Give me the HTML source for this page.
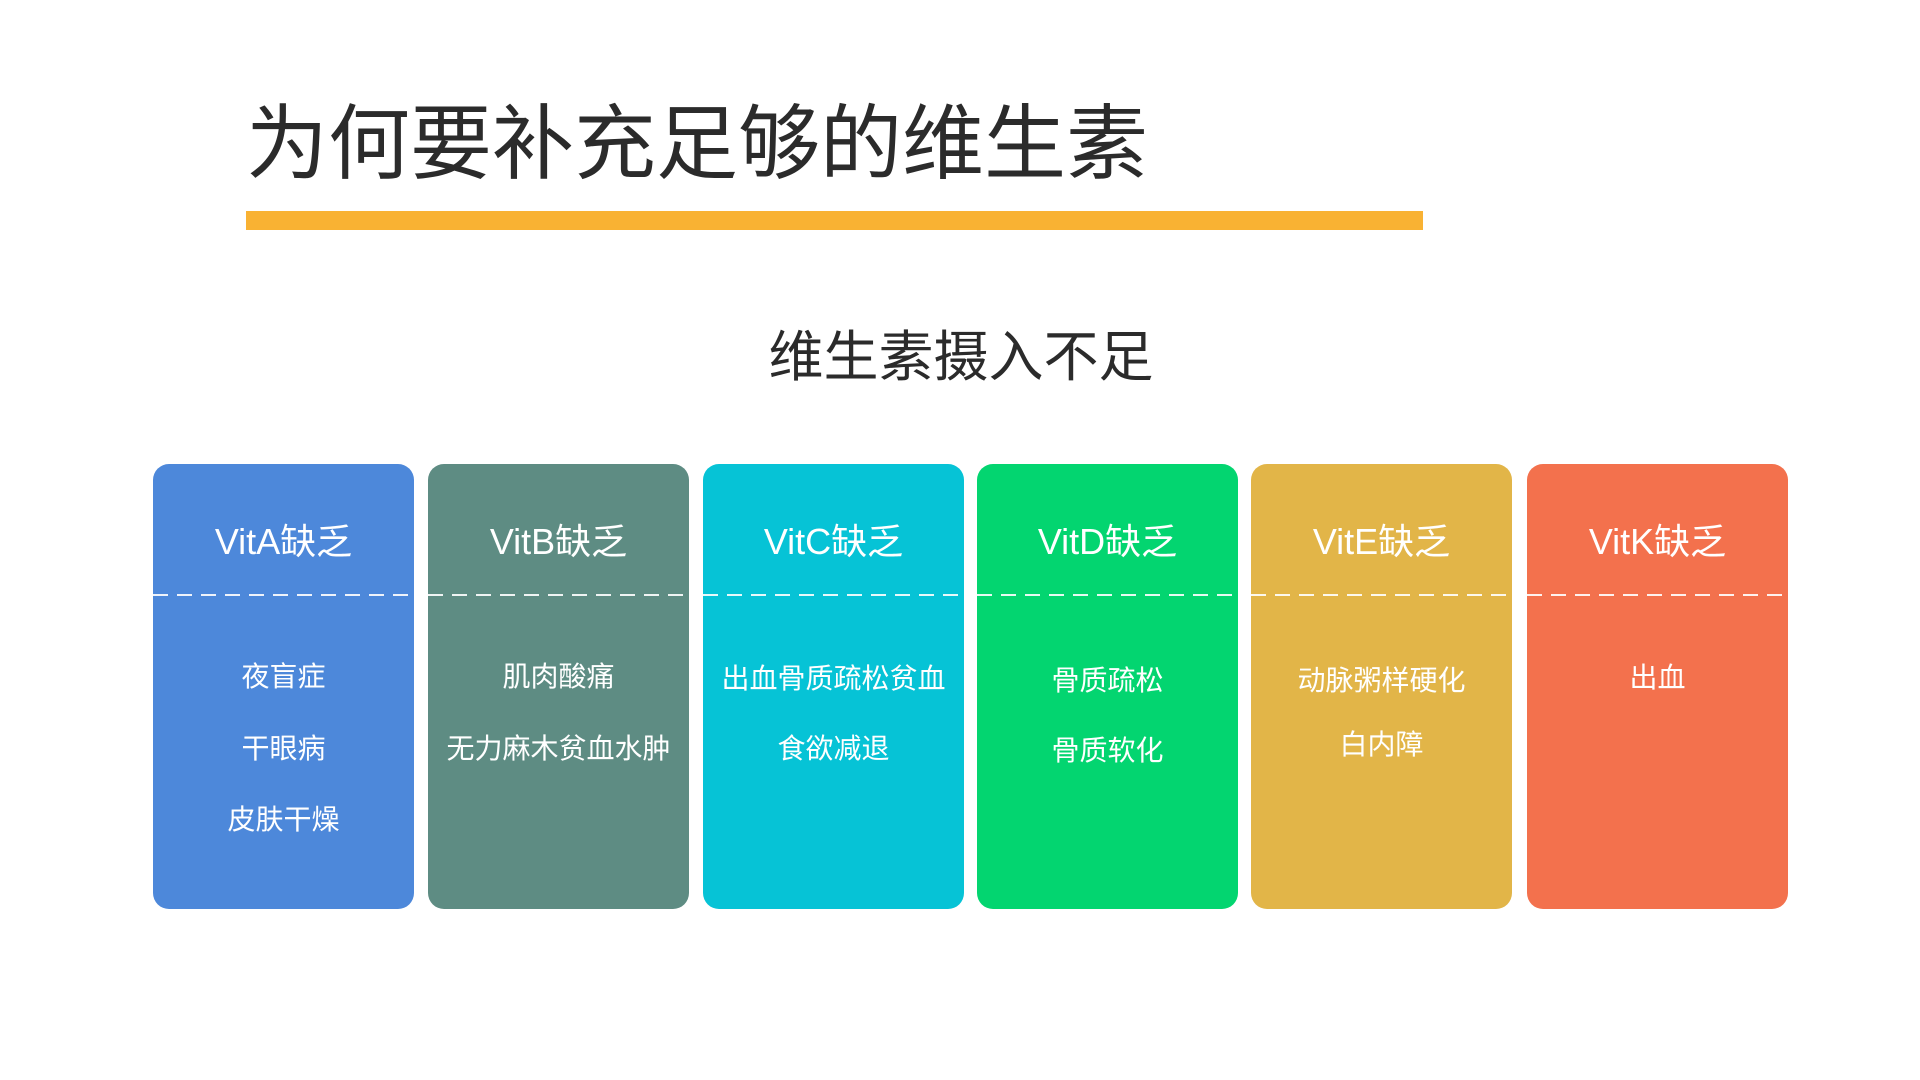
<!DOCTYPE html>
<html><head><meta charset="utf-8"><style>
body{margin:0;width:1920px;height:1080px;background:#fff;position:relative;overflow:hidden;font-family:"Liberation Sans","Noto Sans CJK SC",sans-serif;}
.t{position:absolute;left:246px;top:92px;font-size:82px;line-height:106px;color:#2b2b2b;white-space:nowrap;}
.bar{position:absolute;left:246px;top:211px;width:1177px;height:19px;background:#F9B233;}
.s{position:absolute;top:323px;font-size:55px;line-height:68px;color:#2b2b2b;text-align:center;white-space:nowrap;}
.c{position:absolute;top:464px;width:261px;height:445px;border-radius:16px;color:#fff;}
.h{position:absolute;top:0;left:0;width:100%;height:130px;line-height:156px;text-align:center;font-size:36px;}
.d{position:absolute;top:130px;left:0;width:100%;height:2px;background:repeating-linear-gradient(90deg,rgba(255,255,255,.9) 0 15px,transparent 15px 24px);}
.b{position:absolute;left:0;width:100%;text-align:center;font-size:28px;line-height:30px;white-space:nowrap;}
</style></head><body>
<div class="t">为何要补充足够的维生素</div>
<div class="bar"></div>
<div class="s" style="left:768px;width:386px;">维生素摄入不足</div>

<div class="c" style="left:153px;background:#4D88DA"><div class="h">VitA缺乏</div><div class="d"></div>
<div class="b" style="top:198px">夜盲症</div><div class="b" style="top:270px">干眼病</div><div class="b" style="top:341px">皮肤干燥</div></div>

<div class="c" style="left:428px;background:#5E8C83"><div class="h">VitB缺乏</div><div class="d"></div>
<div class="b" style="top:198px">肌肉酸痛</div><div class="b" style="top:270px">无力麻木贫血水肿</div></div>

<div class="c" style="left:703px;background:#06C3D6"><div class="h">VitC缺乏</div><div class="d"></div>
<div class="b" style="top:200px">出血骨质疏松贫血</div><div class="b" style="top:270px">食欲减退</div></div>

<div class="c" style="left:977px;background:#03D570"><div class="h">VitD缺乏</div><div class="d"></div>
<div class="b" style="top:202px">骨质疏松</div><div class="b" style="top:272px">骨质软化</div></div>

<div class="c" style="left:1251px;background:#E2B548"><div class="h">VitE缺乏</div><div class="d"></div>
<div class="b" style="top:202px">动脉粥样硬化</div><div class="b" style="top:266px">白内障</div></div>

<div class="c" style="left:1527px;background:#F3714D"><div class="h">VitK缺乏</div><div class="d"></div>
<div class="b" style="top:199px">出血</div></div>
</body></html>
